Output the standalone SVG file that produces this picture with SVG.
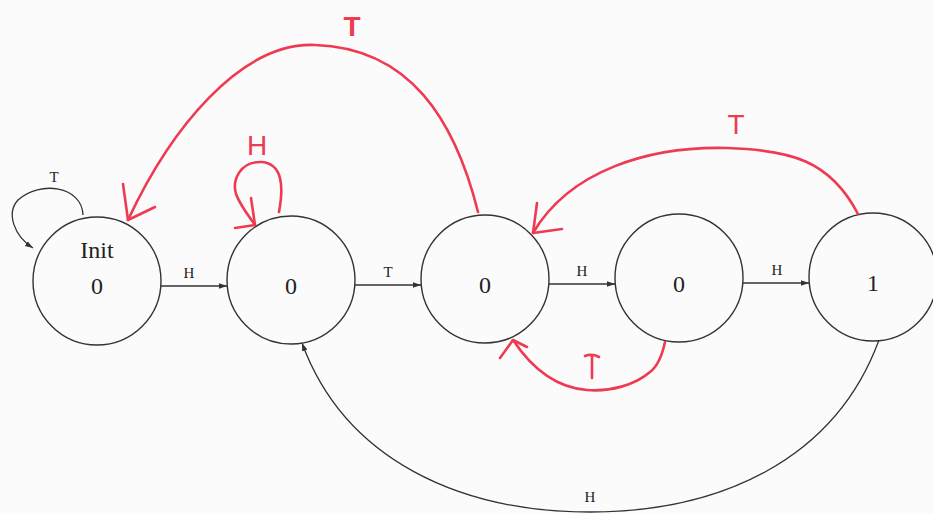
<svg xmlns="http://www.w3.org/2000/svg" width="933" height="514" viewBox="0 0 933 514">
<defs>
<style>
.node{fill:none;stroke:#333;stroke-width:1.4}
.ntxt{font-family:"Liberation Serif",serif;font-size:24px;fill:#222;text-anchor:middle}
.edge{fill:none;stroke:#333;stroke-width:1.3}
.lbl{font-family:"Liberation Serif",serif;font-size:15px;fill:#222;text-anchor:middle}
.red{fill:none;stroke:#ee3b52;stroke-width:2.6;stroke-linecap:round;stroke-linejoin:round}
.rlbl{font-family:"Liberation Sans",sans-serif;font-size:28px;fill:#ee3b52;text-anchor:middle}
</style>
<marker id="ah" viewBox="0 0 10 10" refX="10" refY="5" markerWidth="8" markerHeight="8" markerUnits="userSpaceOnUse" orient="auto">
<path d="M0,1.5 L10,5 L0,8.5 Z" fill="#333"/>
</marker>
</defs>
<rect width="933" height="514" fill="#fbfbfb"/>
<g id="init">
<circle class="node" cx="97" cy="281" r="64"/>
<text class="ntxt" x="97" y="258">Init</text>
<text class="ntxt" x="97" y="294">0</text>
</g>
<g id="s1">
<circle class="node" cx="291" cy="280" r="64"/>
<text class="ntxt" x="291" y="294">0</text>
</g>
<g id="s2">
<circle class="node" cx="485" cy="279" r="64"/>
<text class="ntxt" x="485" y="293">0</text>
</g>
<g id="s3">
<circle class="node" cx="679" cy="278" r="64"/>
<text class="ntxt" x="679" y="292">0</text>
</g>
<g id="s4">
<circle class="node" cx="873" cy="277" r="64"/>
<text class="ntxt" x="873" y="291">1</text>
</g>
<g id="connectors">
<path class="edge" d="M83 215 C82 186 40 180 18 200 C6 213 14 236 33 248" marker-end="url(#ah)"/>
<text class="lbl" x="54" y="182">T</text>
<line class="edge" x1="161" y1="286" x2="227" y2="286" marker-end="url(#ah)"/>
<text class="lbl" x="189" y="278">H</text>
<line class="edge" x1="355" y1="285" x2="421" y2="285" marker-end="url(#ah)"/>
<text class="lbl" x="388" y="277">T</text>
<line class="edge" x1="549" y1="284" x2="615" y2="284" marker-end="url(#ah)"/>
<text class="lbl" x="582" y="276">H</text>
<line class="edge" x1="743" y1="283" x2="809" y2="283" marker-end="url(#ah)"/>
<text class="lbl" x="777" y="275">H</text>
<path class="edge" d="M879 340 C835 460 720 512 590 512 C460 512 345 460 302 343" marker-end="url(#ah)"/>
<text class="lbl" x="590" y="502">H</text>
<path class="red" d="M478 212 C455 120 410 48 315 45 C240 42 170 130 128 220"/>
<path class="red" d="M123 184 L128 220 L155 207"/>
<text class="rlbl" x="352" y="36" font-weight="bold">T</text>
<path class="red" d="M279 212 C284 185 282 164 262 162 C240 161 232 180 236 194 C240 205 248 215 255 225"/>
<path class="red" d="M251 198 L255 225 L235 228"/>
<text class="rlbl" x="257" y="155">H</text>
<path class="red" d="M858 214 C830 160 790 150 727 148 C650 146 570 170 533 233"/>
<path class="red" d="M537 203 L533 233 L562 229"/>
<text class="rlbl" x="736" y="134">T</text>
<path class="red" d="M665 342 C662 356 658 366 650 372 C635 385 610 392 587 390 C560 388 535 373 513 340"/>
<path class="red" d="M500 358 L513 340 L527 347"/>
<path class="red" d="M585 356 Q592 353 599 357 M592 356 L592 378"/>
</g>
</svg>
